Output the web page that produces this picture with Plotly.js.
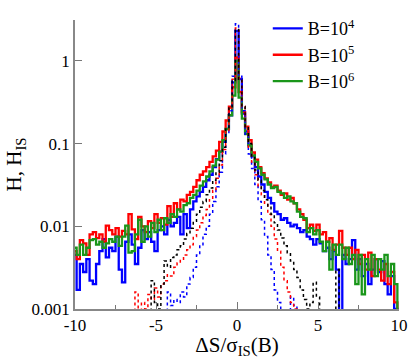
<!DOCTYPE html>
<html>
<head>
<meta charset="utf-8">
<script src="https://cdn.plot.ly/plotly-3.0.1.min.js"></script>
<style>
  html, body { margin: 0; padding: 0; background: #fff; }
  #chart { width: 409px; height: 359px; }
</style>
</head>
<body>
<div id="chart"></div>
<script>
// histograms of dS/sigma_IS(B), bin width 0.2, first bin centred at -10
const binWidth = 0.2;
const firstBin = -10;

// H, solid lines (101 bins, -10 .. 10)
const hB4 = [
  0.0045, 0.0017, 0.0035, 0.0028, 0.0040, 0.0022, 0.0020, 0.0035, 0.0050, 0.0070,
  0.0042, 0.0055, 0.0050, 0.0075, 0.0030, 0.0021, 0.0065, 0.0080, 0.0060, 0.0035,
  0.0055, 0.0090, 0.0070, 0.0085, 0.0065, 0.0050, 0.0090, 0.0100, 0.0080, 0.0120,
  0.0100, 0.0110, 0.0130, 0.0080, 0.0140, 0.0095, 0.0160, 0.0200, 0.0230, 0.0260,
  0.0300, 0.0360, 0.0420, 0.0520, 0.0650, 0.0800, 0.1050, 0.1500, 0.2200, 0.5500,
  2.3,
  0.6000, 0.2300, 0.1400, 0.0950, 0.0700, 0.0520, 0.0400, 0.0320, 0.0260, 0.0220,
  0.0190, 0.0150, 0.0140, 0.0120, 0.0125, 0.0110, 0.0100, 0.0105, 0.0095, 0.0085,
  0.0090, 0.0075, 0.0070, 0.0060, 0.0070, 0.0062, 0.0050, 0.0055, 0.0040, 0.0050,
  0.0030, 0.0005, 0.0045, 0.0035, 0.0040, 0.0068, 0.0030, 0.0040, 0.0025, 0.0035,
  0.0020, 0.0030, 0.0040, 0.0028, 0.0038, 0.0020, 0.0015, 0.0025, 0.0010, 0.0005
];
const hB5 = [
  0.0050, 0.0040, 0.0068, 0.0062, 0.0045, 0.0080, 0.0085, 0.0072, 0.0080, 0.0065,
  0.0102, 0.0090, 0.0080, 0.0095, 0.0075, 0.0088, 0.0080, 0.0140, 0.0092, 0.0070,
  0.0130, 0.0100, 0.0085, 0.0115, 0.0095, 0.0140, 0.0110, 0.0125, 0.0105, 0.0175,
  0.0130, 0.0190, 0.0160, 0.0210, 0.0200, 0.0240, 0.0260, 0.0300, 0.0360, 0.0420,
  0.0460, 0.0520, 0.0600, 0.0700, 0.0820, 0.1050, 0.1400, 0.1900, 0.2800, 0.4800,
  1.1,
  0.4200, 0.2400, 0.1600, 0.1100, 0.0780, 0.0640, 0.0520, 0.0440, 0.0380, 0.0340,
  0.0300, 0.0310, 0.0270, 0.0240, 0.0250, 0.0210, 0.0220, 0.0190, 0.0160, 0.0140,
  0.0120, 0.0095, 0.0105, 0.0088, 0.0105, 0.0080, 0.0085, 0.0065, 0.0072, 0.0052,
  0.0060, 0.0088, 0.0055, 0.0045, 0.0055, 0.0040, 0.0052, 0.0035, 0.0045, 0.0030,
  0.0048, 0.0025, 0.0040, 0.0030, 0.0022, 0.0035, 0.0020, 0.0028, 0.0012, 0.0005
];
const hB6 = [
  0.0055, 0.0045, 0.0060, 0.0045, 0.0055, 0.0068, 0.0070, 0.0060, 0.0065, 0.0055,
  0.0062, 0.0070, 0.0065, 0.0075, 0.0058, 0.0075, 0.0102, 0.0048, 0.0050, 0.0080,
  0.0120, 0.0065, 0.0100, 0.0075, 0.0110, 0.0085, 0.0120, 0.0090, 0.0125, 0.0110,
  0.0140, 0.0130, 0.0160, 0.0150, 0.0180, 0.0190, 0.0220, 0.0240, 0.0270, 0.0310,
  0.0350, 0.0400, 0.0460, 0.0540, 0.0640, 0.0800, 0.1100, 0.1500, 0.2200, 0.3800,
  1.0,
  0.3600, 0.2000, 0.1300, 0.0950, 0.0720, 0.0600, 0.0500, 0.0420, 0.0370, 0.0320,
  0.0290, 0.0300, 0.0260, 0.0250, 0.0220, 0.0230, 0.0200, 0.0190, 0.0150, 0.0130,
  0.0125, 0.0085, 0.0095, 0.0080, 0.0090, 0.0065, 0.0050, 0.0065, 0.0030, 0.0060,
  0.0045, 0.0060, 0.0040, 0.0055, 0.0035, 0.0045, 0.0020, 0.0045, 0.0015, 0.0040,
  0.0030, 0.0045, 0.0025, 0.0040, 0.0030, 0.0045, 0.0025, 0.0035, 0.0020, 0.0005
];

// H_IS, dotted lines (only the bins that are filled)
const hIsB4Start = -4.4;
const hIsB4 = [
  0.0005, 0.0016, 0.0011, 0.0013, 0.0012, 0.0016, 0.0014, 0.0020, 0.0024, 0.0032,
  0.0045, 0.0060, 0.0080, 0.0100, 0.0140, 0.0200, 0.0300, 0.0450, 0.0750, 0.1300,
  0.2500, 0.6500, 2.8, 0.6500, 0.2500, 0.1300, 0.0750, 0.0500, 0.0320, 0.0200,
  0.0120, 0.0075, 0.0045, 0.0030, 0.0017, 0.0012, 0.0010, 0.0005, 0.0005, 0.0014,
  0.0011, 0.0005
];
const hIsB5Start = -6.4;
const hIsB5 = [
  0.0005, 0.0016, 0.0005, 0.0012, 0.0010, 0.0015, 0.0013, 0.0018, 0.0014, 0.0020,
  0.0022, 0.0026, 0.0025, 0.0032, 0.0036, 0.0040, 0.0045, 0.0052, 0.0060, 0.0075,
  0.0090, 0.0110, 0.0135, 0.0160, 0.0210, 0.0270, 0.0380, 0.0550, 0.0850, 0.1400,
  0.2700, 0.6000, 2.5, 0.6200, 0.2800, 0.1500, 0.0900, 0.0600, 0.0420, 0.0310,
  0.0240, 0.0190, 0.0140, 0.0100, 0.0070, 0.0050, 0.0032, 0.0022, 0.0016, 0.0012,
  0.0010, 0.0005
];
const hIsB6Start = -5.4;
const hIsB6 = [
  0.0005, 0.0022, 0.0012, 0.0010, 0.0020, 0.0038, 0.0032, 0.0042, 0.0045, 0.0052,
  0.0058, 0.0070, 0.0082, 0.0095, 0.0115, 0.0140, 0.0170, 0.0200, 0.0240, 0.0290,
  0.0360, 0.0450, 0.0620, 0.0900, 0.1500, 0.2700, 0.5800, 2.4, 0.6000, 0.2800,
  0.1600, 0.1000, 0.0680, 0.0480, 0.0360, 0.0270, 0.0210, 0.0170, 0.0140, 0.0110,
  0.0090, 0.0072, 0.0058, 0.0048, 0.0038, 0.0030, 0.0024, 0.0017, 0.0013, 0.0010,
  0.0012, 0.0021, 0.0014, 0.0005, 0.0005, 0.0005, 0.0005, 0.0005, 0.0030, 0.0005
];

const legendNames = ['B=10<sup>4</sup>', 'B=10<sup>5</sup>', 'B=10<sup>6</sup>'];
const xTicks = [-10, -5, 0, 5, 10];
const xTickText = ['-10', '-5', '0', '5', '10'];
const yTicks = [0.001, 0.01, 0.1, 1];
const yTickText = ['0.001', '0.01', '0.1', '1'];

function centres(start, n) {
  return Array.from({length: n}, (_, i) => +(start + i * binWidth).toFixed(2));
}

function stepTrace(vals, start, color, dash, width, name) {
  return {
    x: centres(start, vals.length),
    y: vals,
    type: 'scatter',
    mode: 'lines',
    line: {shape: 'hvh', color: color, width: width, dash: dash},
    name: name || '',
    showlegend: !!name,
    hoverinfo: 'skip'
  };
}

const serif = '"Liberation Serif", "Times New Roman", serif';

const traces = [
  stepTrace(hB4, firstBin, '#0000ff', 'solid', 2.3, legendNames[0]),
  stepTrace(hB5, firstBin, '#ff0000', 'solid', 2.3, legendNames[1]),
  stepTrace(hB6, firstBin, '#1a961a', 'solid', 2.3, legendNames[2]),
  stepTrace(hIsB4, hIsB4Start, '#0000ff', 'dot', 1.5),
  stepTrace(hIsB5, hIsB5Start, '#ff0000', 'dot', 1.5),
  stepTrace(hIsB6, hIsB6Start, '#000000', 'dot', 1.5)
];

const layout = {
  width: 409,
  height: 359,
  margin: {l: 75, r: 10, t: 12, b: 50},
  paper_bgcolor: '#fff',
  plot_bgcolor: '#fff',
  font: {family: serif, color: '#000', size: 17},
  showlegend: true,
  legend: {
    x: 0.595, y: 1.034, xanchor: 'left', yanchor: 'top',
    bgcolor: 'rgba(0,0,0,0)',
    font: {family: serif, size: 18},
    itemwidth: 30,
    tracegroupgap: 0
  },
  xaxis: {
    range: [-10, 10],
    tickmode: 'array', tickvals: xTicks, ticktext: xTickText,
    ticks: 'inside', ticklen: 7, tickcolor: '#777', tickwidth: 1.2,
    minor: {dtick: 2.5, tick0: 0, ticks: 'inside', ticklen: 4, tickcolor: '#777'},
    showline: true, linecolor: '#888', linewidth: 1.5,
    showgrid: false, zeroline: false,
    tickfont: {family: serif, size: 17},
    title: {text: 'ΔS/σ<sub>IS</sub>(B)', font: {family: serif, size: 21}, standoff: 4}
  },
  yaxis: {
    type: 'log',
    range: [-3, 0.494],
    tickmode: 'array', tickvals: yTicks, ticktext: yTickText,
    ticks: 'inside', ticklen: 7, tickcolor: '#777', tickwidth: 1.2,
    showline: true, linecolor: '#888', linewidth: 1.5,
    showgrid: false, zeroline: false,
    tickfont: {family: serif, size: 17},
    title: {text: 'H, H<sub>IS</sub>', font: {family: serif, size: 21}, standoff: 4}
  }
};

Plotly.newPlot('chart', traces, layout, {displayModeBar: false});
</script>
</body>
</html>
